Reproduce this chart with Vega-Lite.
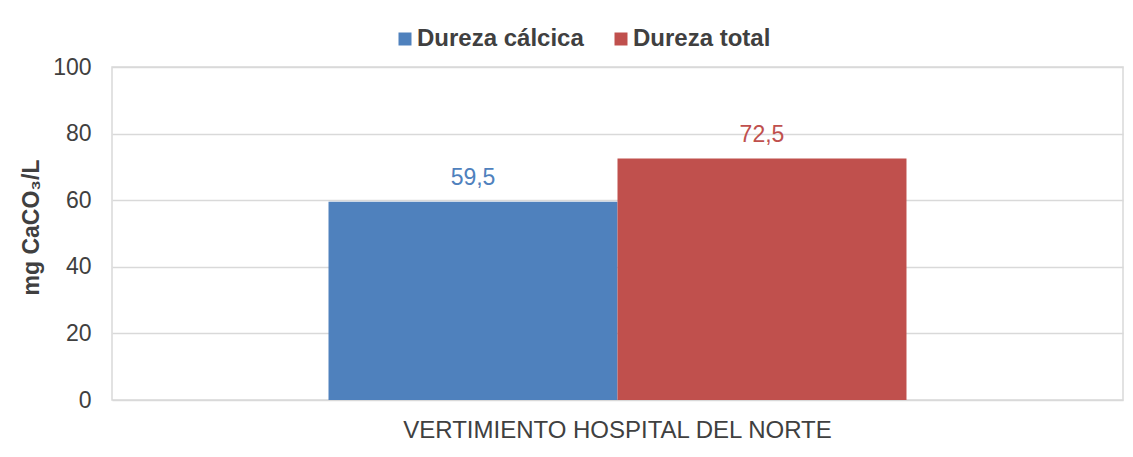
{
  "$schema": "https://vega.github.io/schema/vega-lite/v6.json",
  "autosize": "none",
  "width": 1011,
  "height": 333,
  "padding": {"left": 112, "top": 67, "right": 10, "bottom": 57},
  "background": "white",
  "config": {
    "font": "Liberation Sans",
    "view": {"stroke": "#d9d9d9", "strokeWidth": 1.5},
    "locale": {"number": {"decimal": ",", "thousands": ".", "grouping": [3], "currency": ["", " €"]}}
  },
  "data": {
    "values": [
      {"site": "VERTIMIENTO HOSPITAL DEL NORTE", "serie": "Dureza cálcica", "valor": 59.5},
      {"site": "VERTIMIENTO HOSPITAL DEL NORTE", "serie": "Dureza total", "valor": 72.5}
    ]
  },
  "encoding": {
    "x": {
      "field": "site", "type": "nominal",
      "scale": {"paddingInner": 0, "paddingOuter": 0.3746},
      "axis": {"title": null, "labelAngle": 0, "labelFontSize": 24, "labelColor": "#404040", "ticks": false, "domain": false, "labelPadding": 18, "labelLimit": 0}
    },
    "xOffset": {
      "field": "serie", "type": "nominal",
      "sort": ["Dureza cálcica", "Dureza total"],
      "scale": {"paddingInner": 0, "paddingOuter": 0}
    },
    "y": {
      "field": "valor", "type": "quantitative",
      "scale": {"domain": [0, 100], "nice": false},
      "axis": {
        "values": [0, 20, 40, 60, 80, 100],
        "title": "mg CaCO₃/L",
        "titleFontSize": 23, "titleFontWeight": "bold", "titleColor": "#404040", "titlePadding": 9,
        "titleY": 160,
        "labelFontSize": 23, "labelColor": "#404040", "labelPadding": 21,
        "ticks": false, "domain": false,
        "gridColor": "#d9d9d9", "gridWidth": 1.5
      }
    }
  },
  "layer": [
    {
      "mark": {"type": "bar"},
      "encoding": {
        "color": {
          "field": "serie", "type": "nominal",
          "scale": {"domain": ["Dureza cálcica", "Dureza total"], "range": ["#4F81BD", "#C0504D"]},
          "legend": {
            "title": null, "orient": "none", "direction": "horizontal",
            "legendX": 281, "legendY": -40,
            "symbolType": "square", "symbolSize": 169, "symbolStrokeWidth": 0,
            "labelFontSize": 24, "labelFontWeight": "bold", "labelColor": "#404040",
            "labelOffset": 0, "columnPadding": 25, "padding": 0, "labelLimit": 0
          }
        }
      }
    },
    {
      "mark": {"type": "text", "dy": -17, "baseline": "alphabetic", "fontSize": 23},
      "encoding": {
        "text": {"field": "valor", "type": "quantitative", "format": ".1f"},
        "color": {"field": "serie", "type": "nominal", "legend": null}
      }
    }
  ]
}
